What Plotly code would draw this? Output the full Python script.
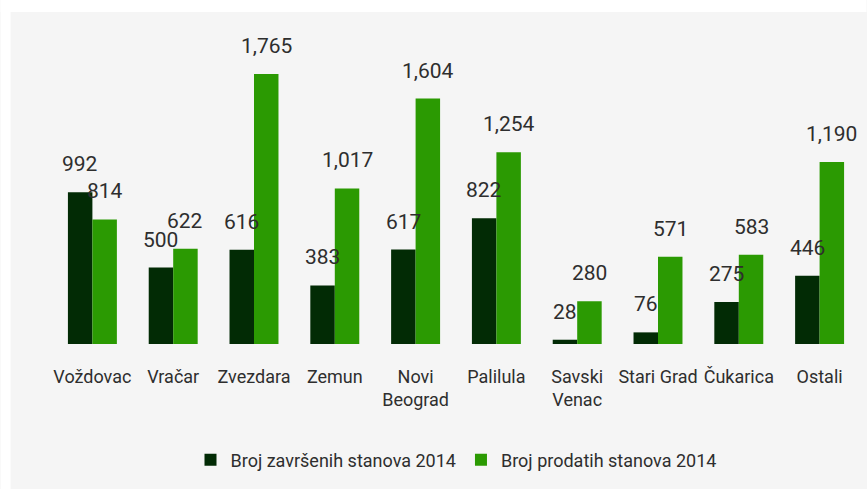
import plotly.graph_objects as go

categories = ["Voždovac", "Vračar", "Zvezdara", "Zemun", "Novi<br>Beograd",
              "Palilula", "Savski<br>Venac", "Stari Grad", "Čukarica", "Ostali"]
zavrseni = [992, 500, 616, 383, 617, 822, 28, 76, 275, 446]
prodati = [814, 622, 1765, 1017, 1604, 1254, 280, 571, 583, 1190]
series_names = ["Broj završenih stanova 2014", "Broj prodatih stanova 2014"]

W, H = 867, 489
ML, MR, MT, MB = 51.5, 6.5, 38, 145
PW, PH = W - ML - MR, H - MT - MB
FONT = "Roboto, Liberation Sans, sans-serif"
DARK, GREEN = "#022b05", "#2b9a02"
TXT = "#2e2e2e"

fig = go.Figure()
fig.add_bar(x=categories, y=zavrseni, name=series_names[0], marker_color=DARK,
            marker_line_width=0)
fig.add_bar(x=categories, y=prodati, name=series_names[1], marker_color=GREEN,
            marker_line_width=0)

half = PW / len(categories) * (1 - 0.394) / 4
for c, v in zip(categories, zavrseni):
    fig.add_annotation(x=c, y=v, text=f"{v:,}", showarrow=False, xshift=-half,
                       yshift=14, yanchor="bottom",
                       font=dict(family=FONT, size=21, color=TXT))
for c, v in zip(categories, prodati):
    fig.add_annotation(x=c, y=v, text=f"{v:,}", showarrow=False, xshift=half,
                       yshift=14, yanchor="bottom",
                       font=dict(family=FONT, size=21, color=TXT))

def px_x(p):
    return (p - ML) / PW

def px_y(p):
    return (H - MB - p) / PH

fig.add_shape(type="rect", xref="paper", yref="paper", x0=px_x(0), x1=px_x(W),
              y0=px_y(12), y1=px_y(0), fillcolor="white", line_width=0, layer="below")
fig.add_shape(type="rect", xref="paper", yref="paper", x0=px_x(0), x1=px_x(10),
              y0=px_y(H), y1=px_y(0), fillcolor="white", line_width=0, layer="below")

fig.update_layout(
    width=W, height=H,
    margin=dict(l=ML, r=MR, t=MT, b=MB),
    paper_bgcolor="#f5f5f5", plot_bgcolor="#f5f5f5",
    barmode="group", bargap=0.394, bargroupgap=0,
    showlegend=True,
    legend=dict(orientation="h", x=0.5, xanchor="center", y=px_y(460), yanchor="middle",
                font=dict(family=FONT, size=18, color=TXT), bgcolor="rgba(0,0,0,0)"),
    xaxis=dict(showgrid=False, showline=False, zeroline=False, ticks="",
               tickangle=0, ticklabelstandoff=20,
               tickfont=dict(family=FONT, size=18, color=TXT)),
    yaxis=dict(range=[0, 2000], visible=False, showgrid=False, zeroline=False),
)

fig.write_html("out.html")
